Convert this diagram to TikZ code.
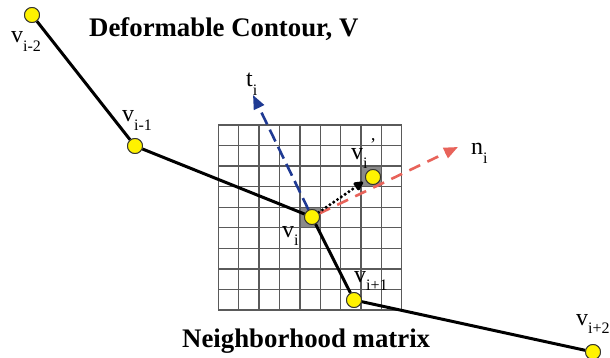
\documentclass[tikz,border=0pt]{standalone}
\usepackage{fontspec}
\setmainfont{Liberation Serif}
\usetikzlibrary{arrows.meta}
\definecolor{navyb}{HTML}{1F3A93}
\definecolor{salmon}{HTML}{E8635A}
\definecolor{gridc}{HTML}{5A5A5A}
\definecolor{cellc}{HTML}{8A8A8A}
\newcommand{\vlab}[1]{v\raisebox{-0.36em}{\fontsize{16}{16}\selectfont #1}}
\tikzset{
  vert/.style={circle, draw=black!80, line width=0.9pt, fill=yellow, inner sep=0pt, minimum size=15pt},
  contour/.style={line width=3pt, black},
  gridline/.style={gridc, line width=1.4pt},
  lab/.style={anchor=base west, inner sep=0pt, font=\fontsize{24}{24}\selectfont},
  ttl/.style={anchor=base west, inner sep=0pt, font=\fontsize{26.8}{27}\selectfont\bfseries},
  tarrow/.style={navyb, line width=2.6pt, dash pattern=on 13pt off 6pt, -{Triangle[length=14pt,width=11pt]}},
  narrow/.style={salmon, line width=2.6pt, dash pattern=on 12pt off 8pt, -{Triangle[length=14pt,width=11pt]}},
  darrow/.style={black, line width=3.4pt, dash pattern=on 0pt off 4.6pt, line cap=round, -{Triangle[length=11pt,width=10pt,round]}}
}
\begin{document}
\begin{tikzpicture}[x=1pt,y=-1pt]
\useasboundingbox[fill=white] (0,0) rectangle (610,358);
% shaded cells
\fill[cellc] (300.3,207) rectangle (320.7,227.5);
\fill[cellc] (361.5,166) rectangle (381.9,186.5);
% grid
\foreach \i in {0,...,9} {
  \draw[gridline] ({218.3+\i*20.38},125) -- ({218.3+\i*20.38},310);
  \draw[gridline] (218.3,{125+\i*20.55}) -- (401.7,{125+\i*20.55});
}
% contour
\node[vert] (a) at (32,15) {};
\node[vert] (b) at (135,146) {};
\node[vert] (c) at (312,217) {};
\node[vert] (d) at (354,300) {};
\node[vert] (e) at (593,352) {};
\node[vert] (f) at (373,177) {};
\draw[contour] (a) -- (b) -- (c) -- (d) -- (e);
\coordinate (tt) at (253,95);
\coordinate (nt) at (458,147);
\coordinate (dt) at (363,182);
\draw[tarrow] (c) -- (tt);
\draw[narrow] (c) -- (nt);
\draw[darrow] (c) -- (dt);
% redraw vertices on top
\foreach \n in {a,b,c,d,e,f} \node[vert] at (\n) {};
% labels
\node[lab] (la) at (11,43) {\vlab{i-2}};
\node[lab] (lb) at (122,122) {\vlab{i-1}};
\node[lab] (lc) at (282,237) {\vlab{i}};
\node[lab] (ld) at (354,282) {\vlab{i+1}};
\node[lab] (le) at (576,325) {\vlab{i+2}};
\node[lab] (lf) at (351,160) {\vlab{i}};
\node[anchor=base west, inner sep=0pt, font=\fontsize{18}{18}\selectfont] (pr) at (370,151) {'};
\node[lab] (lt) at (246,87) {t\raisebox{-0.36em}{\fontsize{16}{16}\selectfont i}};
\node[lab] (ln) at (471,155) {n\raisebox{-0.36em}{\fontsize{16}{16}\selectfont i}};
\node[ttl] (title) at (89,37) {Deformable Contour, V};
\node[ttl] (sub) at (182,347) {Neighborhood matrix};
\end{tikzpicture}
\end{document}
